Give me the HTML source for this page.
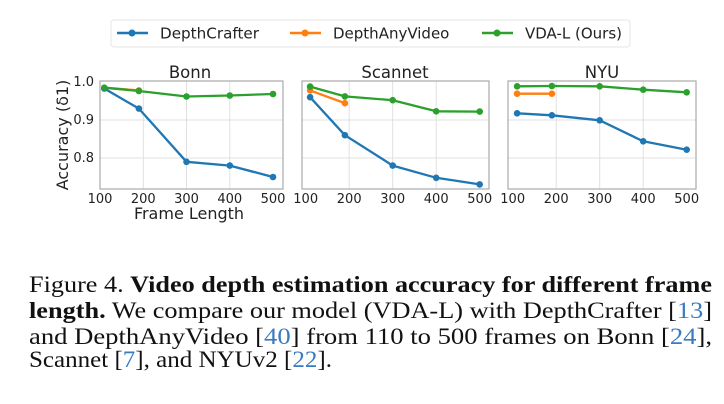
<!DOCTYPE html>
<html><head><meta charset="utf-8"><style>
html,body{margin:0;padding:0;background:#fff;}
svg{display:block;}
.t{font-family:"DejaVu Sans","Liberation Sans",sans-serif;fill:#222;}
.c{font-family:"Liberation Serif",serif;font-size:23px;fill:#111;}
</style></head><body>
<svg width="724" height="404" viewBox="0 0 724 404" xmlns="http://www.w3.org/2000/svg">
<!-- legend -->
<rect x="111" y="20" width="519" height="27" rx="3" fill="#fff" stroke="#e4e4e4"/>
<line x1="117" y1="33" x2="148" y2="33" stroke="#1f77b4" stroke-width="2.5"/><circle cx="132" cy="33" r="3.5" fill="#1f77b4"/>
<text class="t" x="160" y="38.5" font-size="15" textLength="99" lengthAdjust="spacingAndGlyphs">DepthCrafter</text>
<line x1="290" y1="33" x2="321" y2="33" stroke="#ff7f0e" stroke-width="2.5"/><circle cx="305" cy="33" r="3.5" fill="#ff7f0e"/>
<text class="t" x="333" y="38.5" font-size="15">DepthAnyVideo</text>
<line x1="482" y1="33" x2="513" y2="33" stroke="#2ca02c" stroke-width="2.5"/><circle cx="497" cy="33" r="3.5" fill="#2ca02c"/>
<text class="t" x="525" y="38.5" font-size="15">VDA-L (Ours)</text>

<!-- titles -->
<text class="t" x="190" y="78" font-size="16.5" text-anchor="middle">Bonn</text>
<text class="t" x="395" y="78" font-size="16.5" text-anchor="middle">Scannet</text>
<text class="t" x="602" y="78" font-size="16.5" text-anchor="middle">NYU</text>

<!-- grids -->
<g stroke="#e0e0e0" stroke-width="1">
<line x1="100" y1="120" x2="283" y2="120"/><line x1="100" y1="158" x2="283" y2="158"/>
<line x1="302" y1="120" x2="489" y2="120"/><line x1="302" y1="158" x2="489" y2="158"/>
<line x1="508" y1="120" x2="696" y2="120"/><line x1="508" y1="158" x2="696" y2="158"/>
<line x1="143.3" y1="81" x2="143.3" y2="189"/><line x1="186.5" y1="81" x2="186.5" y2="189"/><line x1="229.8" y1="81" x2="229.8" y2="189"/>
<line x1="349.2" y1="81" x2="349.2" y2="189"/><line x1="392.7" y1="81" x2="392.7" y2="189"/><line x1="436.2" y1="81" x2="436.2" y2="189"/>
<line x1="556.2" y1="81" x2="556.2" y2="189"/><line x1="599.7" y1="81" x2="599.7" y2="189"/><line x1="643.2" y1="81" x2="643.2" y2="189"/>
</g>
<g fill="none" stroke="#aaa" stroke-width="1.2">
<rect x="100" y="81" width="183" height="108"/>
<rect x="302" y="81" width="187" height="108"/>
<rect x="508" y="81" width="188" height="108"/>
</g>

<!-- y ticks -->
<g class="t" font-size="13" text-anchor="end">
<text x="94" y="86">1.0</text><text x="94" y="124">0.9</text><text x="94" y="162">0.8</text>
</g>
<text class="t" font-size="16" text-anchor="middle" transform="translate(68,135) rotate(-90)">Accuracy (δ1)</text>

<!-- x ticks -->
<g class="t" font-size="13" text-anchor="middle">
<text x="100" y="203">100</text><text x="143.3" y="203">200</text><text x="186.5" y="203">300</text><text x="229.8" y="203">400</text><text x="273" y="203">500</text>
<text x="305.7" y="203">100</text><text x="349.2" y="203">200</text><text x="392.7" y="203">300</text><text x="436.2" y="203">400</text><text x="479.7" y="203">500</text>
<text x="512.7" y="203">100</text><text x="556.2" y="203">200</text><text x="599.7" y="203">300</text><text x="643.2" y="203">400</text><text x="686.7" y="203">500</text>
</g>
<text class="t" x="189" y="219" font-size="16" text-anchor="middle">Frame Length</text>

<!-- series -->
<g stroke-width="2.3" fill="none" stroke-linejoin="round">
<polyline stroke="#1f77b4" points="104.3,88.5 138.9,108.6 186.5,161.8 229.8,165.6 273,177"/>
<polyline stroke="#ff7f0e" points="104.3,87.7 138.9,90.4"/>
<polyline stroke="#2ca02c" points="104.3,87.7 138.9,91 186.5,96.5 229.8,95.5 273,94"/>
<polyline stroke="#1f77b4" points="310.1,97.2 344.9,135.2 392.7,165.6 436.2,177.8 479.7,184.4"/>
<polyline stroke="#ff7f0e" points="310.1,90.4 344.9,103.2"/>
<polyline stroke="#2ca02c" points="310.1,86.6 344.9,96.4 392.7,100.2 436.2,111.3 479.7,111.6"/>
<polyline stroke="#1f77b4" points="517.1,113.3 551.9,115.3 599.7,120.3 643.2,141.3 686.7,149.7"/>
<polyline stroke="#ff7f0e" points="517.1,93.7 551.9,93.7"/>
<polyline stroke="#2ca02c" points="517.1,86.3 551.9,86 599.7,86.3 643.2,89.7 686.7,92.3"/>
</g>
<g fill="#1f77b4">
<circle cx="104.3" cy="88.5" r="3.3"/><circle cx="138.9" cy="108.6" r="3.3"/><circle cx="186.5" cy="161.8" r="3.3"/><circle cx="229.8" cy="165.6" r="3.3"/><circle cx="273" cy="177" r="3.3"/>
<circle cx="310.1" cy="97.2" r="3.3"/><circle cx="344.9" cy="135.2" r="3.3"/><circle cx="392.7" cy="165.6" r="3.3"/><circle cx="436.2" cy="177.8" r="3.3"/><circle cx="479.7" cy="184.4" r="3.3"/>
<circle cx="517.1" cy="113.3" r="3.3"/><circle cx="551.9" cy="115.3" r="3.3"/><circle cx="599.7" cy="120.3" r="3.3"/><circle cx="643.2" cy="141.3" r="3.3"/><circle cx="686.7" cy="149.7" r="3.3"/>
</g>
<g fill="#ff7f0e">
<circle cx="138.9" cy="90.4" r="3.3"/><circle cx="310.1" cy="90.4" r="3.3"/><circle cx="344.9" cy="103.2" r="3.3"/><circle cx="517.1" cy="93.7" r="3.3"/><circle cx="551.9" cy="93.7" r="3.3"/>
</g>
<g fill="#2ca02c">
<circle cx="104.3" cy="87.7" r="3.3"/><circle cx="138.9" cy="91" r="3.3"/><circle cx="186.5" cy="96.5" r="3.3"/><circle cx="229.8" cy="95.5" r="3.3"/><circle cx="273" cy="94" r="3.3"/>
<circle cx="310.1" cy="86.6" r="3.3"/><circle cx="344.9" cy="96.4" r="3.3"/><circle cx="392.7" cy="100.2" r="3.3"/><circle cx="436.2" cy="111.3" r="3.3"/><circle cx="479.7" cy="111.6" r="3.3"/>
<circle cx="517.1" cy="86.3" r="3.3"/><circle cx="551.9" cy="86" r="3.3"/><circle cx="599.7" cy="86.3" r="3.3"/><circle cx="643.2" cy="89.7" r="3.3"/><circle cx="686.7" cy="92.3" r="3.3"/>
</g>

<!-- caption -->
<text class="c" x="29" y="292" textLength="683" lengthAdjust="spacingAndGlyphs">Figure 4. <tspan font-weight="bold">Video depth estimation accuracy for different frame</tspan></text>
<text class="c" x="29" y="318" textLength="683" lengthAdjust="spacingAndGlyphs"><tspan font-weight="bold">length.</tspan> We compare our model (VDA-L) with DepthCrafter [<tspan fill="#3a7bbf">13</tspan>]</text>
<text class="c" x="29" y="344" textLength="683" lengthAdjust="spacingAndGlyphs">and DepthAnyVideo [<tspan fill="#3a7bbf">40</tspan>] from 110 to 500 frames on Bonn [<tspan fill="#3a7bbf">24</tspan>],</text>
<text class="c" x="29" y="367" textLength="303" lengthAdjust="spacingAndGlyphs">Scannet [<tspan fill="#3a7bbf">7</tspan>], and NYUv2 [<tspan fill="#3a7bbf">22</tspan>].</text>
</svg>
</body></html>
